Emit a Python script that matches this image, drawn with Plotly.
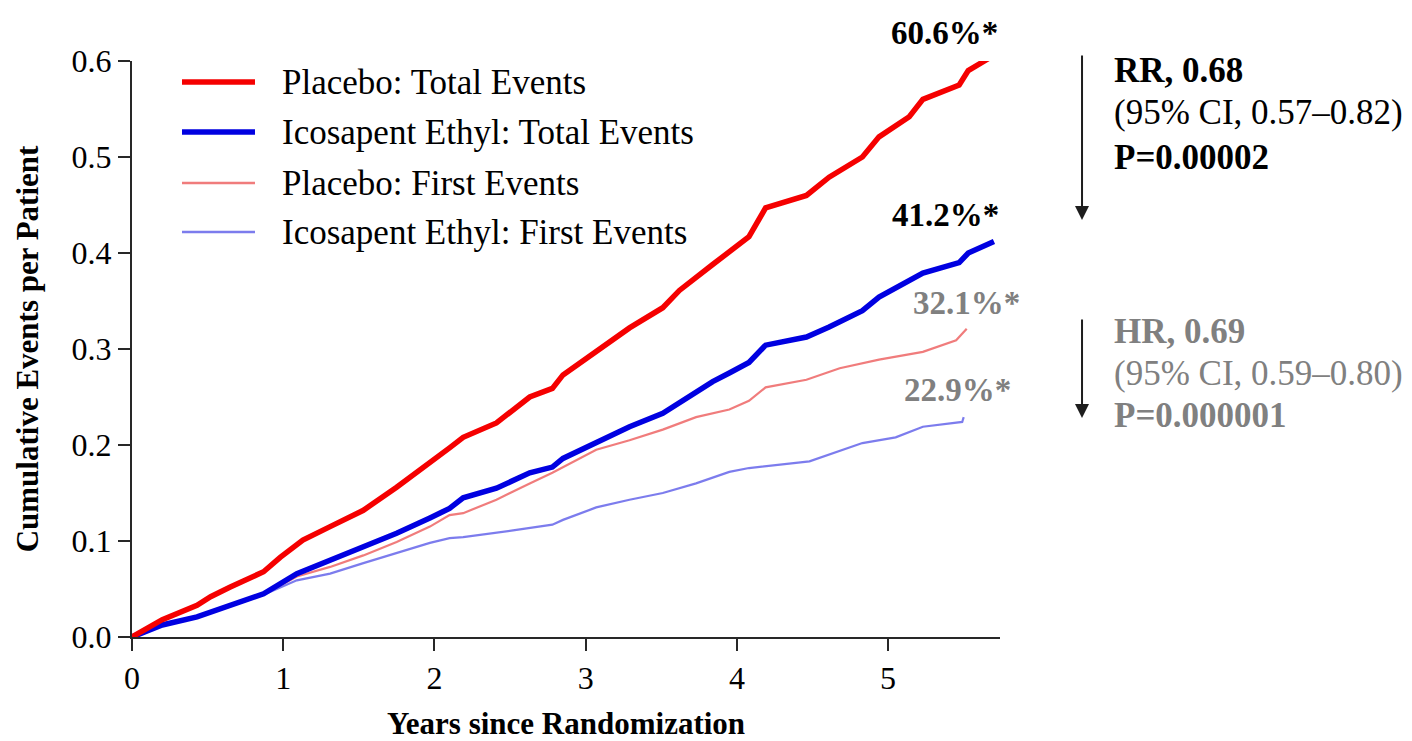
import plotly.graph_objects as go

# ---- data ----
placebo_total_x = [0, 0.2, 0.43, 0.52, 0.65, 0.87, 0.98, 1.13, 1.31, 1.53, 1.75, 1.97, 2.10, 2.19, 2.41, 2.63,
                   2.78, 2.85, 3.07, 3.29, 3.51, 3.62, 3.84, 3.97, 4.08, 4.19, 4.46, 4.61, 4.83, 4.94, 5.14,
                   5.23, 5.47, 5.53, 5.70]
placebo_total_y = [0, 0.018, 0.033, 0.042, 0.052, 0.068, 0.083, 0.101, 0.115, 0.132, 0.156, 0.181, 0.197, 0.208,
                   0.223, 0.25, 0.259, 0.273, 0.297, 0.322, 0.343, 0.361, 0.388, 0.403, 0.417, 0.447, 0.46,
                   0.479, 0.50, 0.521, 0.542, 0.56, 0.575, 0.59, 0.606]

ice_total_x = [0, 0.2, 0.43, 0.65, 0.87, 1.09, 1.31, 1.53, 1.75, 1.97, 2.10, 2.19, 2.41, 2.63, 2.78, 2.85, 3.07,
               3.29, 3.51, 3.62, 3.84, 3.95, 4.08, 4.19, 4.46, 4.61, 4.83, 4.94, 5.23, 5.47, 5.53, 5.70]
ice_total_y = [0, 0.0125, 0.021, 0.033, 0.045, 0.066, 0.08, 0.093, 0.108, 0.124, 0.134, 0.145, 0.155, 0.171,
               0.177, 0.186, 0.203, 0.219, 0.233, 0.244, 0.266, 0.275, 0.286, 0.304, 0.3125, 0.323, 0.34,
               0.354, 0.379, 0.39, 0.40, 0.412]

placebo_first_x = [0, 0.2, 0.43, 0.65, 0.87, 1.09, 1.31, 1.53, 1.75, 1.97, 2.10, 2.19, 2.41, 2.63, 2.78, 3.07,
                   3.29, 3.51, 3.73, 3.95, 4.08, 4.19, 4.46, 4.68, 4.94, 5.23, 5.45, 5.52]
placebo_first_y = [0, 0.012, 0.02, 0.032, 0.044, 0.063, 0.073, 0.085, 0.099, 0.115, 0.127, 0.129, 0.143, 0.16,
                   0.171, 0.195, 0.205, 0.216, 0.229, 0.237, 0.246, 0.26, 0.268, 0.28, 0.289, 0.297, 0.309, 0.321]

ice_first_x = [0, 0.2, 0.43, 0.65, 0.87, 1.09, 1.31, 1.53, 1.75, 1.97, 2.10, 2.19, 2.52, 2.78, 2.85, 3.07, 3.29,
               3.51, 3.73, 3.95, 4.08, 4.48, 4.83, 5.05, 5.23, 5.49, 5.50]
ice_first_y = [0, 0.012, 0.02, 0.032, 0.044, 0.059, 0.066, 0.077, 0.0875, 0.098, 0.103, 0.104, 0.111, 0.117,
               0.122, 0.135, 0.143, 0.15, 0.16, 0.172, 0.176, 0.183, 0.202, 0.208, 0.219, 0.224, 0.229]

series_names = ["Placebo: Total Events", "Icosapent Ethyl: Total Events",
                "Placebo: First Events", "Icosapent Ethyl: First Events"]
end_labels = ["60.6%*", "41.2%*", "32.1%*", "22.9%*"]
x_ticks = [0, 1, 2, 3, 4, 5]
y_ticks = [0.0, 0.1, 0.2, 0.3, 0.4, 0.5, 0.6]

RED = "rgb(245,0,0)"
BLUE = "rgb(0,0,225)"
PINK = "rgba(238,110,110,0.9)"
LBLUE = "rgba(110,110,235,0.9)"
GRAY = "rgb(128,128,128)"
FONT = "Liberation Serif, Times New Roman, serif"

fig = go.Figure()
fig.add_trace(go.Scatter(x=placebo_first_x, y=placebo_first_y, mode="lines",
                         line=dict(color=PINK, width=2.2), name=series_names[2], showlegend=False))
fig.add_trace(go.Scatter(x=ice_first_x, y=ice_first_y, mode="lines",
                         line=dict(color=LBLUE, width=2.2), name=series_names[3], showlegend=False))
fig.add_trace(go.Scatter(x=ice_total_x, y=ice_total_y, mode="lines",
                         line=dict(color=BLUE, width=5.5), name=series_names[1], showlegend=False))
fig.add_trace(go.Scatter(x=placebo_total_x, y=placebo_total_y, mode="lines",
                         line=dict(color=RED, width=5.5), name=series_names[0], showlegend=False))

# manual legend (paper coordinates)
leg_colors = [RED, BLUE, PINK, LBLUE]
leg_widths = [5.5, 5.5, 2.5, 2.5]
leg_rows = [0.9635, 0.8767, 0.788, 0.703]
for name, c, w, yy in zip(series_names, leg_colors, leg_widths, leg_rows):
    fig.add_shape(type="line", xref="paper", yref="paper", x0=0.0576, x1=0.1417, y0=yy, y1=yy,
                  line=dict(color=c, width=w))
    fig.add_annotation(xref="paper", yref="paper", x=0.1710, y=yy, text=name, showarrow=False,
                       xanchor="left", yanchor="middle", font=dict(family=FONT, size=35, color="black"))

# end labels (x in data units, y in paper units)
lab_pos = [(5.37, 1.048, "black"), (5.38, 0.733, "black"), (5.52, 0.58, GRAY), (5.46, 0.428, GRAY)]
for t, (lx, ly, c) in zip(end_labels, lab_pos):
    fig.add_annotation(x=lx, xref="x", y=ly, yref="paper", text="<b>" + t + "</b>", showarrow=False,
                       xanchor="center", yanchor="middle", font=dict(family=FONT, size=33, color=c))

# RR / HR blocks
rr_lines = ["<b>RR, 0.68</b>", "(95% CI, 0.57–0.82)", "<b>P=0.00002</b>"]
hr_lines = ["<b>HR, 0.69</b>", "(95% CI, 0.59–0.80)", "<b>P=0.000001</b>"]
for t, yy in zip(rr_lines, [0.984, 0.910, 0.832]):
    fig.add_annotation(xref="paper", yref="paper", x=1.129, y=yy, text=t, showarrow=False,
                       xanchor="left", yanchor="middle", font=dict(family=FONT, size=35, color="black"))
for t, yy in zip(hr_lines, [0.531, 0.458, 0.385]):
    fig.add_annotation(xref="paper", yref="paper", x=1.129, y=yy, text=t, showarrow=False,
                       xanchor="left", yanchor="middle", font=dict(family=FONT, size=35, color=GRAY))

# arrows
for y_head, length in [(0.724, 166), (0.380, 100)]:
    fig.add_annotation(xref="paper", yref="paper", x=1.0945, y=y_head, ax=0, ay=-length,
                       text="", showarrow=True, arrowhead=2, arrowsize=1.4, arrowwidth=2,
                       arrowcolor="rgb(30,30,30)")

axis_common = dict(showline=True, linecolor="rgb(40,40,40)", linewidth=2, ticks="outside",
                   ticklen=12, tickwidth=2, tickcolor="rgb(40,40,40)", showgrid=False, zeroline=False,
                   automargin=False, tickfont=dict(family=FONT, size=32, color="black"))

# page body has an 8px margin, so the figure is 8px smaller and shifted accordingly
fig.update_layout(
    width=1404, height=733,
    margin=dict(l=124, r=412, t=53, b=104),
    paper_bgcolor="white", plot_bgcolor="white",
    xaxis=dict(range=[0, 5.74], tickvals=x_ticks, ticktext=[str(v) for v in x_ticks],
               title=dict(text="<b>Years since Randomization</b>", standoff=37,
                          font=dict(family=FONT, size=31, color="black")),
               **axis_common),
    yaxis=dict(range=[0, 0.6], tickvals=y_ticks, ticktext=["%.1f" % v for v in y_ticks],
               title=dict(text="<b>Cumulative Events per Patient</b>", standoff=24,
                          font=dict(family=FONT, size=31, color="black")),
               **axis_common),
)

fig.write_html("out.html")
